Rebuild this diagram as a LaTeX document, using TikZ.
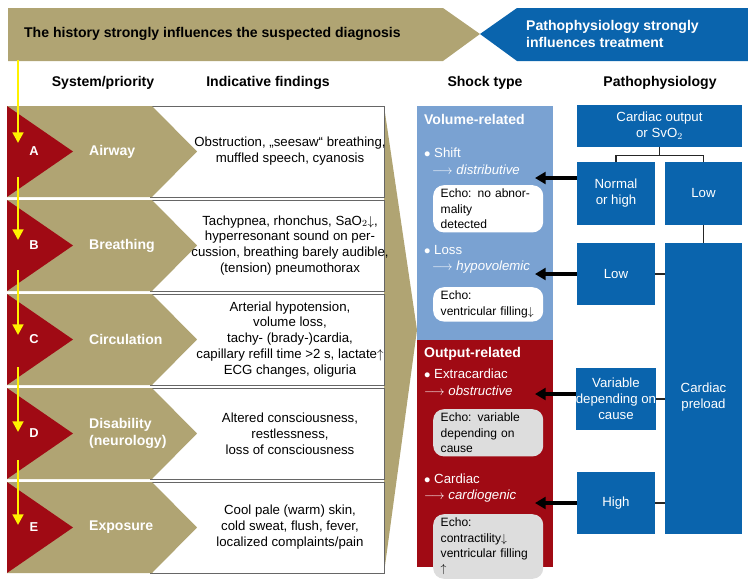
\documentclass[tikz,border=0pt]{standalone}
\usepackage{fontspec}
\setmainfont{Liberation Sans}
\usetikzlibrary{positioning,calc,arrows.meta}
\definecolor{olive}{HTML}{B0A473}
\definecolor{darkred}{HTML}{A00A14}
\definecolor{dblue}{HTML}{0A64AD}
\definecolor{lblue}{HTML}{7AA2D2}
\definecolor{echogray}{HTML}{DDDDDD}
\tikzset{
  hdr/.style={font=\bfseries\fontsize{12}{14}\selectfont},
  txt/.style={font=\fontsize{11.3}{13.6}\selectfont, align=center},
  pbox/.style={fill=dblue, text=white, txt, inner sep=0pt},
  echo/.style={rounded corners=9pt, anchor=north west, minimum width=110*0.03cm,
    align=left, font=\fontsize{10.3}{13}\selectfont, inner xsep=6pt, text width=95*0.03cm},
  blk/.style={-{Triangle[length=9pt,width=10pt]}, line width=3pt, black},
  yel/.style={-{Triangle[length=9pt,width=9pt]}, line width=2.4pt, yellow},
  tree/.style={line width=1.1pt, black!85}
}
\begin{document}
\begin{tikzpicture}[x=0.03cm,y=-0.03cm]
\useasboundingbox (0,0) rectangle (748,581);
% banners
\fill[olive] (8,8) -- (443,8) -- (480,34) -- (443,61) -- (8,61) -- cycle;
\fill[dblue] (517,8) -- (748,8) -- (748,61) -- (517,61) -- (480,34) -- cycle;
\node[hdr, anchor=west] (hist) at (20,34) {The history strongly influences the suspected diagnosis};
\node[hdr, text=white, align=left, anchor=west] (patho) at (522,34) {Pathophysiology strongly\\influences treatment};
% column heads
\node[hdr] (h1) at (103,83) {System/priority};
\node[hdr] (h2) at (268,83) {Indicative findings};
\node[hdr] (h3) at (485,83) {Shock type};
\node[hdr] (h4) at (660,83) {Pathophysiology};
% funnel
\fill[olive] (384,106) -- (417,330) -- (384,573) -- cycle;
% rows
\foreach \i/\L/\sys/\find in {
  0/A/Airway/{Obstruction, „seesaw“ breathing,\\muffled speech, cyanosis},
  1/B/Breathing/{Tachypnea, rhonchus, SaO$_2$$\downarrow$,\\hyperresonant sound on per-\\cussion, breathing barely audible,\\(tension) pneumothorax},
  2/C/Circulation/{Arterial hypotension,\\volume loss,\\tachy- (brady-)cardia,\\capillary refill time >2 s, lactate$\uparrow$\\ECG changes, oliguria},
  3/D/{Disability\\(neurology)}/{Altered consciousness,\\restlessness,\\loss of consciousness},
  4/E/Exposure/{Cool pale (warm) skin,\\cold sweat, flush, fever,\\localized complaints/pain}} {
  \pgfmathsetmacro{\t}{106+94*\i}
  \pgfmathsetmacro{\b}{\t+91}
  \pgfmathsetmacro{\m}{\t+45.5}
  \draw[fill=white, draw=black!60, line width=0.8pt] (150,\t) rectangle (384,\b);
  \fill[olive] (7,\t) -- (152,\t) -- (197,\m) -- (152,\b) -- (7,\b) -- cycle;
  \fill[darkred] (7,\t) -- (73,\m) -- (7,\b) -- cycle;
  \node[font=\bfseries\fontsize{11}{13}\selectfont, text=white] (let\L) at (34,\m) {\L};
  \node[font=\bfseries\fontsize{12}{14}\selectfont, text=white, anchor=west, align=left] (sys\L) at (85,\m) {\sys};
  \node[txt] (find\L) at (290,\m) {\find};
}
% yellow arrows
\coordinate (y0) at (18,60);
\draw[yel] (y0) -- (18,143);
\foreach \s/\e in {177/240, 270/335, 367/432, 460/525} {
  \draw[yel] (18,\s) -- (18,\e);
}
% shock type panels
\fill[lblue] (417,106) rectangle (553,340);
\fill[darkred] (417,340) rectangle (553,567);
\node[font=\bfseries\fontsize{12}{14}\selectfont, text=white, anchor=west] (vol) at (420,119) {Volume-related};
\node[txt, text=white, anchor=west] (shift) at (420,153) {$\bullet$ Shift};
\node[txt, text=white, anchor=west] (distr) at (428,170) {$\longrightarrow$ \textit{distributive}};
\node[echo, fill=white] (e1) at (433,185) {Echo: no abnormality\\detected};
\node[txt, text=white, anchor=west] (loss) at (420,250) {$\bullet$ Loss};
\node[txt, text=white, anchor=west] (hypo) at (428,267) {$\longrightarrow$ \textit{hypovolemic}};
\node[echo, fill=white] (e2) at (433,287) {Echo:\\ventricular filling$\downarrow$};
\node[font=\bfseries\fontsize{12}{14}\selectfont, text=white, anchor=west] (out) at (420,354) {Output-related};
\node[txt, text=white, anchor=west] (extra) at (420,374) {$\bullet$ Extracardiac};
\node[txt, text=white, anchor=west] (obst) at (420,391) {$\longrightarrow$ \textit{obstructive}};
\node[echo, fill=echogray] (e3) at (433,409) {Echo: variable\\depending on\\cause};
\node[txt, text=white, anchor=west] (card) at (420,479) {$\bullet$ Cardiac};
\node[txt, text=white, anchor=west] (cgen) at (420,496) {$\longrightarrow$ \textit{cardiogenic}};
\node[echo, fill=echogray] (e4) at (433,514) {Echo: contractility$\downarrow$\\ventricular filling $\uparrow$};
% pathophysiology boxes
\node[pbox, minimum width=165*0.03cm, minimum height=42*0.03cm] (co) at (659.5,126) {Cardiac output\\or SvO$_2$};
\node[pbox, minimum width=78*0.03cm, minimum height=63*0.03cm] (nh) at (616,193.5) {Normal\\or high};
\node[pbox, minimum width=77*0.03cm, minimum height=63*0.03cm] (low) at (703.5,193.5) {Low};
\node[pbox, minimum width=78*0.03cm, minimum height=62*0.03cm] (low2) at (616,274) {Low};
\node[pbox, minimum width=77*0.03cm, minimum height=291*0.03cm] (pre) at (703.5,388.5) {};
\node[txt, text=white] (pret) at (703.5,397) {Cardiac\\preload};
\node[pbox, minimum width=78*0.03cm, minimum height=62*0.03cm] (var) at (616,399) {Variable\\depending on\\cause};
\node[pbox, minimum width=78*0.03cm, minimum height=62*0.03cm] (high) at (616,503) {High};
% tree
\draw[tree] (co.south) -- ++(0,8) -| (nh.north);
\draw[tree] (co.south) -- ++(0,8) -| (low.north);
\draw[tree] (low.south) -- (low.south |- pre.north);
\draw[tree] (low2.east) -- (low2.east -| pre.west);
\draw[tree] (var.east) -- (var.east -| pre.west);
\draw[tree] (high.east) -- (high.east -| pre.west);
% arrows to shock type
\draw[blk] (nh.west |- 0,178) -- (535,178);
\draw[blk] (low2.west) -- (535,274);
\draw[blk] (var.west |- 0,394) -- (535,394);
\draw[blk] (high.west) -- (535,503);
\end{tikzpicture}
\end{document}
